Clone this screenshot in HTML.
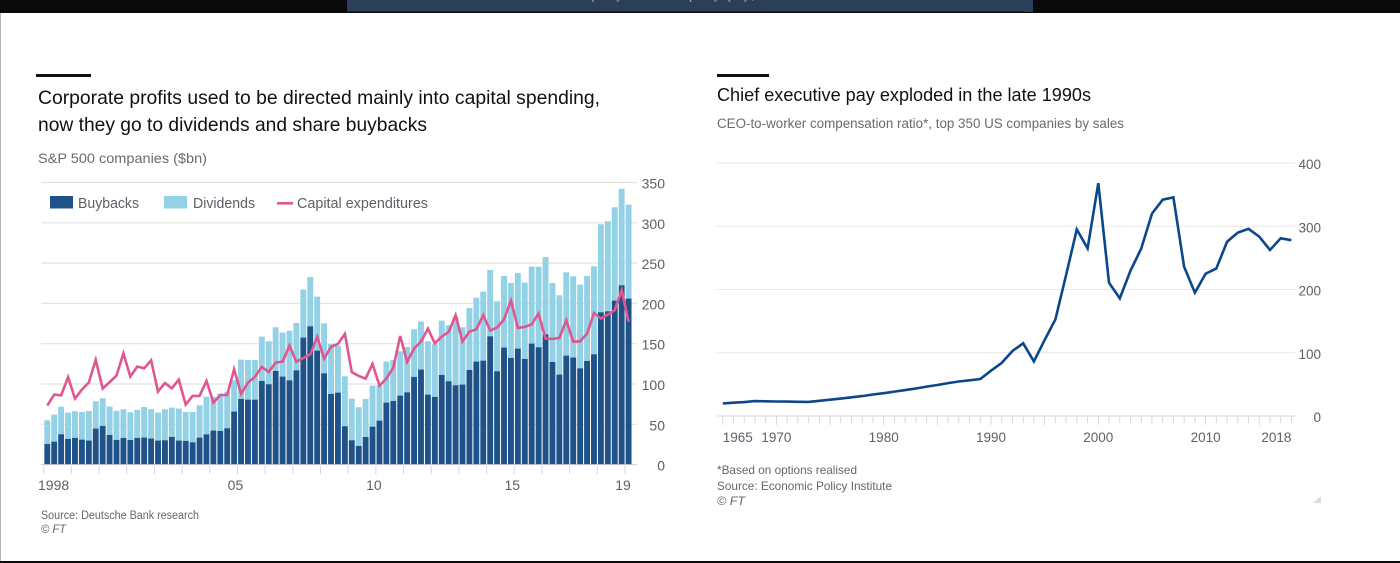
<!DOCTYPE html>
<html lang="en">
<head>
<meta charset="utf-8">
<title>Corporate profits and chief executive pay</title>
<style>
html,body{margin:0;padding:0;background:#fff;width:1400px;height:563px;overflow:hidden}
svg{display:block}
text{font-family:"Liberation Sans",sans-serif}
</style>
</head>
<body>
<svg id="chart" xmlns="http://www.w3.org/2000/svg" width="1400" height="563" viewBox="0 0 1400 563">
  <rect x="0" y="0" width="1400" height="563" fill="#ffffff"/>
  <rect x="0" y="0" width="1400" height="13" fill="#0a0a0a"/>
  <rect x="347" y="0" width="686" height="12" fill="#2b3f58"/>
  <rect x="347" y="11" width="678" height="1" fill="#16253a"/>
  <text x="563" y="-1" font-size="13" fill="#b9c3cf" style="font-family:'Liberation Serif',serif" textLength="192" lengthAdjust="spacing">company and company pay,</text>
  <rect x="0" y="13" width="1" height="548" fill="#b5b5b5"/>
  <rect x="0" y="561" width="1400" height="2" fill="#0a0a0a"/>

  <rect x="36" y="74" width="55" height="3" fill="#111"/>
  <text x="38" y="104" font-size="19.5" fill="#111" textLength="562" lengthAdjust="spacingAndGlyphs">Corporate profits used to be directed mainly into capital spending,</text>
  <text x="38" y="131" font-size="19.5" fill="#111" textLength="389" lengthAdjust="spacingAndGlyphs">now they go to dividends and share buybacks</text>
  <text x="38" y="163" font-size="14" fill="#6b6b6b" textLength="169" lengthAdjust="spacingAndGlyphs">S&amp;P 500 companies ($bn)</text>

  <g id="left-grid"></g>
  <g id="left-bars"></g>
  <g id="left-axis"></g>
  <path id="capex-line" fill="none" stroke="#df5690" stroke-width="2.6" stroke-linejoin="miter"/>

  <g>
    <rect x="50" y="196" width="23" height="12.5" fill="#1f5289"/>
    <text x="78" y="208" font-size="14.5" fill="#5d6068" textLength="61" lengthAdjust="spacingAndGlyphs">Buybacks</text>
    <rect x="164" y="196" width="23" height="12.5" fill="#93d1e6"/>
    <text x="193" y="208" font-size="14.5" fill="#5d6068" textLength="62" lengthAdjust="spacingAndGlyphs">Dividends</text>
    <rect x="277" y="202" width="16" height="2.6" fill="#df5690"/>
    <text x="297" y="208" font-size="14.5" fill="#5d6068" textLength="131" lengthAdjust="spacingAndGlyphs">Capital expenditures</text>
  </g>

  <text x="41" y="519" font-size="11.5" fill="#666" textLength="158" lengthAdjust="spacingAndGlyphs">Source: Deutsche Bank research</text>
  <text x="41" y="533" font-size="11.5" font-style="italic" fill="#666" textLength="25" lengthAdjust="spacingAndGlyphs">© FT</text>

  <rect x="717" y="74" width="52" height="3" fill="#111"/>
  <text x="717" y="101" font-size="18.5" fill="#111" textLength="374" lengthAdjust="spacingAndGlyphs">Chief executive pay exploded in the late 1990s</text>
  <text x="717" y="128" font-size="13.5" fill="#6b6b6b" textLength="407" lengthAdjust="spacingAndGlyphs">CEO-to-worker compensation ratio*, top 350 US companies by sales</text>

  <g id="right-grid"></g>
  <g id="right-axis"></g>
  <path id="ceo-line" fill="none" stroke="#0c478a" stroke-width="2.6" stroke-linejoin="miter"/>

  <text x="717" y="474" font-size="12" fill="#666" textLength="140" lengthAdjust="spacingAndGlyphs">*Based on options realised</text>
  <text x="717" y="490" font-size="12" fill="#666" textLength="175" lengthAdjust="spacingAndGlyphs">Source: Economic Policy Institute</text>
  <text x="717" y="505" font-size="12" font-style="italic" fill="#666" textLength="28" lengthAdjust="spacingAndGlyphs">© FT</text>
  <polygon points="1321,496 1321,503 1313,503" fill="#dcdcdc"/>
</svg>
<script>
const quarterStartYear = 1998;
const buybacks = [25.6,28.5,37.6,31.8,33.1,31,29.8,44.7,48,36.8,30.6,33.1,30.6,33.1,33.5,32.3,29.8,30.2,34.3,29.8,29.4,27.7,33.5,37.6,42.2,41.8,45.1,65.8,81.5,80.6,80.6,103.8,99.7,116.2,109.2,104.6,117,157.6,171.6,141.4,113.3,87.7,89.3,47.6,30.2,23.2,34.3,47.1,54.6,76.9,79,85.6,89.7,108.8,117.9,86.8,84,111.2,103.4,98.4,99.3,117.5,127.8,129,159.2,115.8,145.2,132.3,143.9,131.1,150.1,145.6,161.7,127.4,111.7,135.2,132.8,119.5,128.6,136.9,189,190.2,203.5,222.5,206];
const dividends = [29.4,33.5,34.3,32.7,33.1,34.3,36.8,33.9,34.3,35.2,36,35.6,34.3,34.7,38,36.4,34.7,38.5,36.4,39.7,36,37.6,40.1,46.7,41.8,46.3,45.5,38.9,48.8,49.2,49.2,55,53.3,54.2,54.6,61.6,58.7,59.6,61.2,67,62,62,57.9,62,51.7,48,47.1,50.9,43.8,50.9,50.9,55,56.2,59.1,59.6,66.2,65.3,67.4,69.5,84.8,71.1,76.9,79.4,85.6,82.3,86.8,88.9,93.1,93.9,94.7,95.5,99.7,95.9,98,98.4,103.4,100.9,103.8,105.5,109.2,109.2,111.7,115.8,119.9,116.6];
const capex = [73.2,86.8,86,108.4,81.9,93.1,101.7,129.9,94.3,102.2,110.4,138.1,109.2,121.6,119.5,129.4,90.6,101.3,94.7,105.5,74.4,85.2,85.2,103.8,76.9,86.4,86.4,118.3,87.7,101.7,108.8,121.2,115,126.6,127.8,147.6,127.4,132.3,136.9,158.4,131.5,146,149.7,162.1,114.6,110,106.7,124.9,98,106.7,120.3,159.6,127.4,143.9,152.6,168.7,150.5,158.8,164.6,185.3,152.6,165,167.9,185.3,166.3,170,180.3,203.5,169.6,170.8,174.1,187.3,156.3,155.9,157.2,179.1,152.6,153,162.5,188.2,181.1,186.1,191.5,216.3,177];
const leftYTicks = [0,50,100,150,200,250,300,350];
const leftTickYears = [1998,1999,2000,2001,2002,2003,2004,2005,2006,2007,2008,2009,2010,2011,2012,2013,2014,2015,2016,2017,2018,2019];
const leftLabelYears = [1998,2005,2010,2015,2019];
const leftLabels = ['1998','05','10','15','19'];

const ceoYears = [1965,1966,1967,1968,1969,1970,1971,1972,1973,1974,1975,1976,1977,1978,1979,1980,1981,1982,1983,1984,1985,1986,1987,1988,1989,1990,1991,1992,1993,1994,1995,1996,1997,1998,1999,2000,2001,2002,2003,2004,2005,2006,2007,2008,2009,2010,2011,2012,2013,2014,2015,2016,2017,2018];
const ceoRatio = [20,21,22,23.5,23.3,23,22.8,22.5,22.3,24,25.8,27.5,29.5,31.5,34,36,38.5,41,43.5,46.5,49,52,54.5,56.5,58.5,71.6,84,102.8,114.9,86.4,120,152.8,223,295,265,368,210.8,186,229.8,264.6,320,342,345.7,236,195,225,233,275.6,290,296,283.5,262.5,281,278];
const rightYTicks = [0,100,200,300,400];
const rightLabelYears = [1965,1970,1980,1990,2000,2010,2018];

const NS = 'http://www.w3.org/2000/svg';
const xLeft = i => 47.3 + i * 6.92;
const xLeftYear = y => 43.7 + (y - quarterStartYear) * 27.68;
const yLeft = v => 464.6 - v * 0.806;
const xRight = y => 1098.3 + (y - 2000) * 10.73;
const yRight = v => 416 - v * 0.6325;

function make(tag, parent, attrs, text) {
  const el = document.createElementNS(NS, tag);
  for (const k in attrs) el.setAttribute(k, attrs[k]);
  if (text !== undefined) el.textContent = text;
  parent.appendChild(el);
  return el;
}
function linePath(xs, ys) {
  return xs.map((x, i) => (i ? 'L' : 'M') + x.toFixed(1) + ' ' + ys[i].toFixed(1)).join('');
}

const leftGrid = document.getElementById('left-grid');
const leftAxis = document.getElementById('left-axis');
const leftBars = document.getElementById('left-bars');
leftYTicks.forEach(v => {
  if (v > 0) {
    const g = make('line', leftGrid, {x1: 41, x2: 637, y1: yLeft(v), y2: yLeft(v), stroke: '#e6e3dd', 'stroke-width': 1.2});
    
    
  }
  const t = make('text', leftAxis, {x: 665, y: yLeft(v) + 6, 'text-anchor': 'end', 'font-size': 14, fill: '#5d6068'}, String(v));
  
  
});
buybacks.forEach((b, i) => {
  const d = dividends[i];
  const x = xLeft(i) - 2.95;
  const r2 = make('rect', leftBars, {x: x, y: yLeft(b + d), width: 5.9, height: yLeft(b) - yLeft(b + d), fill: '#93d1e6'});
  
  
  const r1 = make('rect', leftBars, {x: x, y: yLeft(b), width: 5.9, height: yLeft(0) - yLeft(b), fill: '#1f5289'});
  
  
});
const leftBase = make('line', leftAxis, {x1: 41, x2: 637, y1: yLeft(0), y2: yLeft(0), stroke: '#c9ccd3', 'stroke-width': 1});


leftTickYears.forEach(y => {
  const tk = make('line', leftAxis, {x1: xLeftYear(y), x2: xLeftYear(y), y1: 466, y2: 474, stroke: '#d4d6da', 'stroke-width': 1});
  
  
});
leftLabels.forEach((label, i) => {
  const first = i === 0;
  const t = make('text', leftAxis, {x: first ? 38 : xLeftYear(leftLabelYears[i]) - 2, y: 490, 'text-anchor': first ? 'start' : 'middle', 'font-size': 14, fill: '#5d6068'}, label);
  
  
});
document.getElementById('capex-line').setAttribute('d', linePath(capex.map((_, i) => xLeft(i)), capex.map(yLeft)));

const rightGrid = document.getElementById('right-grid');
const rightAxis = document.getElementById('right-axis');
rightYTicks.forEach(v => {
  const g = make('line', rightGrid, {x1: 717, x2: 1295, y1: yRight(v), y2: yRight(v), stroke: v === 0 ? '#d6d6d6' : '#e8e8e8', 'stroke-width': 1.1});
  
  
  const t = make('text', rightAxis, {x: 1321, y: yRight(v) + 6, 'text-anchor': 'end', 'font-size': 13.5, fill: '#5d6068'}, String(v));
  
  
});
ceoYears.forEach(y => {
  const major = y % 5 === 0;
  const tk = make('line', rightAxis, {x1: xRight(y), x2: xRight(y), y1: 416, y2: major ? 425 : 423, stroke: '#d8d8d8', 'stroke-width': 1});
  
  
});
rightLabelYears.forEach(y => {
  const anchor = y === 1965 ? 'start' : (y === 2018 ? 'end' : 'middle');
  const t = make('text', rightAxis, {x: xRight(y), y: 442, 'text-anchor': anchor, 'font-size': 13.5, fill: '#5d6068'}, String(y));
  
  
});
document.getElementById('ceo-line').setAttribute('d', linePath(ceoYears.map(xRight), ceoRatio.map(yRight)));
</script>
</body>
</html>
